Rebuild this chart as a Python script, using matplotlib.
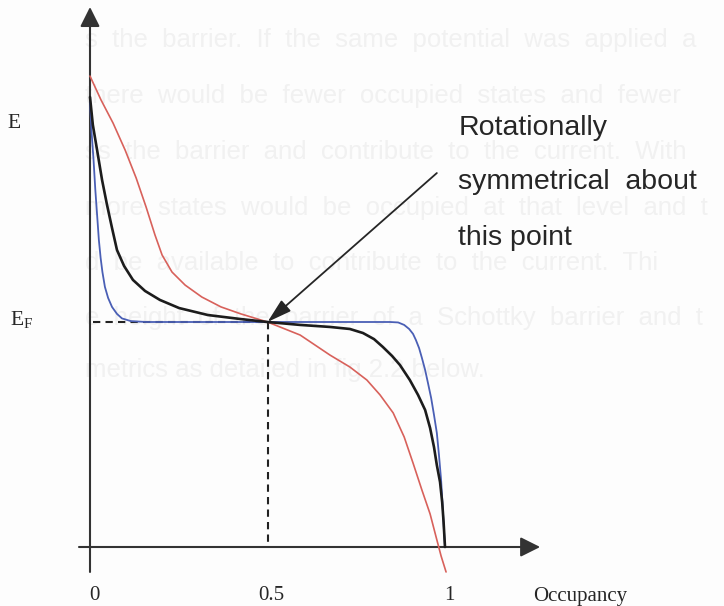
import matplotlib
matplotlib.use("Agg")
import matplotlib.pyplot as plt

# Fermi level and axis extents (energy in arbitrary units, x-axis at E = 0)
E_FERMI = 1.0
E_AXIS_TOP = 2.40
E_AXIS_BOTTOM = -0.111
OCC_AXIS_LEFT = -0.031
OCC_AXIS_RIGHT = 1.268

# Occupancy f(E) curves for three temperatures
occ_low = [0.000, 0.004, 0.010, 0.015, 0.020, 0.025, 0.030, 0.035, 0.042, 0.051,
           0.062, 0.076, 0.090, 0.115, 0.158, 0.500, 0.845, 0.868, 0.885, 0.899,
           0.910, 0.918, 0.927, 0.935, 0.944, 0.952, 0.961, 0.969, 0.977, 0.983,
           0.989, 0.994, 0.997, 1.000]
en_low = [1.987, 1.853, 1.720, 1.587, 1.476, 1.364, 1.284, 1.222, 1.156, 1.107,
          1.067, 1.036, 1.016, 1.004, 1.000, 1.000, 1.000, 0.998, 0.987, 0.969,
          0.947, 0.920, 0.884, 0.840, 0.787, 0.729, 0.662, 0.587, 0.507, 0.409,
          0.298, 0.164, 0.076, 0.000]

occ_mid = [0.000, 0.008, 0.020, 0.034, 0.048, 0.062, 0.076, 0.096, 0.121, 0.155,
           0.197, 0.251, 0.332, 0.425, 0.500, 0.592, 0.676, 0.732, 0.769, 0.800,
           0.825, 0.851, 0.873, 0.901, 0.924, 0.944, 0.958, 0.969, 0.977, 0.986,
           0.992, 0.996, 1.000]
en_mid = [2.000, 1.876, 1.764, 1.631, 1.520, 1.418, 1.320, 1.249, 1.187, 1.138,
          1.098, 1.062, 1.031, 1.013, 1.000, 0.987, 0.978, 0.969, 0.951, 0.924,
          0.889, 0.849, 0.809, 0.742, 0.676, 0.609, 0.529, 0.444, 0.364, 0.289,
          0.200, 0.111, 0.000]

occ_high = [0.000, 0.031, 0.065, 0.099, 0.130, 0.158, 0.183, 0.203, 0.231, 0.268,
            0.315, 0.369, 0.425, 0.500, 0.592, 0.676, 0.732, 0.780, 0.817, 0.854,
            0.885, 0.910, 0.935, 0.958, 0.975, 0.989, 1.003]
en_high = [2.093, 1.987, 1.884, 1.764, 1.640, 1.511, 1.387, 1.298, 1.222, 1.164,
           1.111, 1.067, 1.036, 1.000, 0.942, 0.853, 0.800, 0.742, 0.676, 0.596,
           0.489, 0.373, 0.253, 0.147, 0.044, -0.040, -0.111]

tick_values = [0, 0.5, 1]
tick_labels = ["0", "0.5", "1"]

callout_lines = ["Rotationally", "symmetrical  about", "this point"]

# faint show-through of the justified page text behind the figure
page_lines = [
    "s  the  barrier.  If  the  same  potential  was  applied  a",
    "there  would  be  fewer  occupied  states  and  fewer",
    "ss  the  barrier  and  contribute  to  the  current.  With",
    "more  states  would  be  occupied  at  that  level  and  t",
    "d  be  available  to  contribute  to  the  current.  Thi",
    "e  height  of  the  barrier  of  a  Schottky  barrier  and  t",
    "metrics as detailed in fig 2.2 below.",
]

BG = "#fdfdfd"
INK = "#262626"
AXIS = "#333333"

fig = plt.figure(figsize=(7.24, 6.06), dpi=100, facecolor=BG)
ax = fig.add_axes([0, 0, 1, 1])
ax.set_facecolor(BG)
ax.set_xlim(-90 / 355, (724 - 90) / 355)
ax.set_ylim((547 - 606) / 225, 547 / 225)
ax.axis("off")

# background page text, sitting between the callout lines
page_y = [2.253, 2.004, 1.756, 1.507, 1.262, 1.018, 0.787]
for line, y in zip(page_lines, page_y):
    ax.text(-0.014, y, line, family="Liberation Sans", fontsize=18.5,
            color="#f1f1f1", ha="left", va="center", zorder=0)

# axes with arrow heads
axis_arrow = dict(arrowstyle="-|>,head_length=0.6,head_width=0.3",
                  mutation_scale=20, lw=1.5, color=AXIS, shrinkA=0, shrinkB=0)
ax.annotate("", xy=(0, E_AXIS_TOP), xytext=(0, E_AXIS_BOTTOM),
            arrowprops=axis_arrow, zorder=3)
ax.annotate("", xy=(OCC_AXIS_RIGHT, 0), xytext=(OCC_AXIS_LEFT, 0),
            arrowprops=axis_arrow, zorder=3)

# Fermi level guides
ax.plot([0.008, 0.5], [E_FERMI, E_FERMI], color="#222222", lw=1.5,
        linestyle=(0, (3.5, 2.5)), zorder=2)
ax.plot([0.5, 0.5], [E_FERMI, 0], color="#222222", lw=1.5,
        linestyle=(0, (3.5, 2.5)), zorder=2)

# distribution curves
curve_style = dict(solid_joinstyle="round", solid_capstyle="round")
ax.plot(occ_high, en_high, color="#d8615b", lw=1.2, zorder=4, **curve_style)
ax.plot(occ_low, en_low, color="#4a5fb5", lw=1.3, zorder=5, **curve_style)
ax.plot(occ_mid, en_mid, color="#1c1c1c", lw=1.9, zorder=6, **curve_style)

# tick labels and axis titles
label_y = (547 - 596) / 225
for t, lab in zip(tick_values, tick_labels):
    ax.text(t + 0.012, label_y, lab, family="Liberation Serif", fontsize=15,
            color=INK, ha="center", va="center")
ax.text(1.248, label_y, "Occupancy", family="Liberation Serif", fontsize=15,
        color=INK, ha="left", va="center")
ax.text(-0.214, 1.88, "E", family="Liberation Serif", fontsize=15.5,
        color=INK, ha="center", va="center")
ax.text(-0.194, 1.013, r"$\mathregular{E_F}$", family="Liberation Serif",
        fontsize=15.5, color=INK, ha="center", va="center")

# callout
ax.annotate("", xy=(0.5, E_FERMI), xytext=(0.977, 1.662),
            arrowprops=dict(arrowstyle="-|>,head_length=0.75,head_width=0.22",
                            mutation_scale=20, lw=1.3, color=INK,
                            shrinkA=0, shrinkB=0), zorder=7)
for line, y in zip(callout_lines, [1.862, 1.622, 1.373]):
    ax.text(1.037, y, line, family="Liberation Sans", fontsize=20.5,
            color=INK, ha="left", va="center", zorder=8)

fig.savefig("out.png", dpi=100, facecolor=BG)
